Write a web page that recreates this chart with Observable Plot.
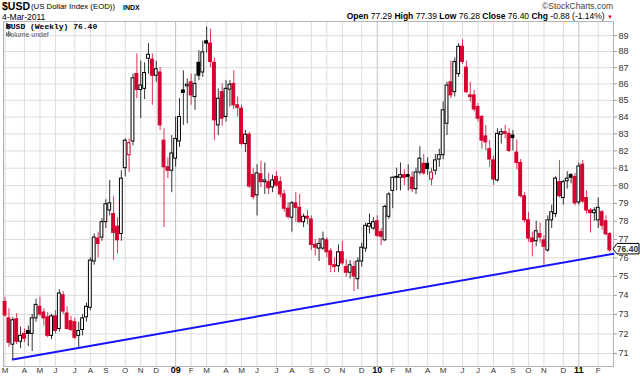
<!DOCTYPE html>
<html><head><meta charset="utf-8">
<script src="https://cdn.jsdelivr.net/npm/d3@7"></script>
<script src="https://cdn.jsdelivr.net/npm/@observablehq/plot@0.6"></script>
<style>
body{margin:0;background:#fff;}
#wrap{position:relative;width:640px;height:376px;overflow:hidden;font-family:"Liberation Sans",Arial,sans-serif;color:#000;font-size:8.5px;}
#wrap svg{position:absolute;left:0;top:0;}
.ov{position:absolute;white-space:nowrap;line-height:1;}
</style></head><body>
<div id="wrap"></div>
<script>
// ---- data (weekly candles, Mondays from 3-Mar-2008 to 28-Feb-2011) ----
const weekStart = "2008-03-03";
const weekEnd = "2011-03-01";
const opens = [73.65,72.8,71.45,72.75,71.6,72.0,72.15,72.0,72.8,73.4,73.1,72.85,71.9,72.9,72.25,74.0,73.05,72.65,72.6,71.9,72.2,72.85,73.35,75.8,77.05,77.1,77.95,78.6,78.4,77.7,77.3,81.0,81.75,82.55,86.6,85.63,85.7,87.55,87.5,86.5,86.7,82.6,81.05,80.85,81.55,82.55,85.6,85.85,86.1,85.2,87.3,86.7,88.65,88.5,87.3,83.5,85.5,84.0,85.65,86.0,84.7,84.5,82.4,82.95,80.6,79.45,80.65,80.2,80.2,79.9,80.5,80.2,79.5,78.7,78.2,79.0,78.75,77.95,78.25,78.1,76.7,76.5,76.5,76.95,76.35,75.6,75.55,76.3,75.5,75.2,75.5,74.85,75.8,76.5,77.7,77.6,78.0,77.4,76.95,78.25,79.7,80.45,80.45,80.6,80.6,80.45,79.8,80.75,81.25,81.25,80.35,80.85,81.5,81.75,83.6,86.1,85.5,86.6,88.3,87.0,85.3,85.3,84.6,84.0,82.85,82.1,81.45,80.3,82.95,83.1,83.0,82.9,81.9,81.3,79.4,78.05,77.05,76.9,77.3,76.95,76.4,78.05,78.4,80.2,79.3,80.25,80.6,80.5,79.05,81.2,79.3,78.6,78.45,78.05,78.5,78.0,77.29];
const highs = [73.9,73.3,72.85,73.05,72.35,72.25,72.4,73.0,73.8,73.9,73.3,73.1,73.0,73.2,74.3,74.2,73.4,72.9,72.8,72.6,73.0,73.6,76.0,77.3,77.4,78.15,79.2,80.3,79.4,78.2,80.85,82.7,82.7,86.6,87.85,87.4,87.3,88.5,87.85,87.4,87.0,83.3,81.6,82.9,84.0,85.1,86.8,86.3,86.6,86.6,88.05,88.65,89.55,89.4,87.6,85.7,86.0,86.2,86.2,86.8,85.2,84.7,83.2,83.1,81.0,81.2,81.4,81.3,80.7,80.6,80.8,80.5,79.75,79.05,79.1,79.6,79.5,78.4,78.6,78.3,77.0,77.05,77.4,77.1,76.5,76.0,76.7,76.9,75.9,75.85,75.8,76.0,76.8,77.9,78.4,78.2,78.3,77.6,78.9,79.6,80.5,81.0,81.3,80.9,81.2,80.8,81.0,82.25,81.8,81.6,81.0,81.8,82.1,84.9,86.1,87.4,87.6,88.5,88.75,87.4,86.1,85.6,84.8,84.1,83.5,82.6,81.7,83.3,83.3,83.5,83.3,83.2,82.65,81.5,79.6,78.5,77.4,78.0,77.9,77.2,78.3,78.9,80.5,81.45,80.3,80.8,80.7,80.7,81.3,81.45,79.7,78.7,78.75,79.3,78.6,78.3,77.39];
const lows = [72.85,71.3,70.70,71.45,71.25,71.55,71.35,71.1,72.6,72.9,72.4,71.8,71.7,72.0,72.1,73.0,72.2,72.1,71.7,71.3,71.9,72.6,73.2,75.6,76.0,76.9,77.6,78.3,75.85,76.2,76.9,80.5,80.75,82.3,85.1,83.9,85.05,86.6,84.7,86.1,83.2,77.65,80.4,79.6,81.05,82.2,83.5,83.6,84.7,84.4,86.2,86.4,87.9,87.0,82.6,82.9,83.45,83.7,84.6,84.45,84.0,82.3,81.9,79.85,79.2,78.3,79.9,79.5,79.5,79.6,79.9,79.3,78.5,78.1,77.4,77.95,77.9,77.65,77.8,76.4,76.1,75.8,76.4,76.0,75.2,75.2,75.2,75.6,74.95,74.85,74.2,74.3,75.5,76.3,77.3,77.5,77.1,76.65,76.9,78.1,78.7,79.7,79.7,80.0,79.7,79.6,79.5,80.6,80.6,80.6,80.0,80.6,81.05,81.5,82.9,85.1,85.2,86.4,87.2,85.4,84.9,84.3,83.7,82.1,82.0,81.05,80.0,80.2,82.4,82.7,81.9,82.0,80.9,79.3,77.9,76.85,76.05,76.6,76.8,75.6,76.3,77.6,78.2,79.3,78.9,79.8,80.1,78.85,78.9,79.0,78.4,77.35,78.0,77.6,77.5,77.2,76.28];
const closes = [72.95,71.55,72.7,71.6,71.9,71.75,72.0,72.8,73.5,73.0,72.8,71.9,72.9,72.15,74.1,73.15,72.25,72.2,71.8,72.15,72.8,73.4,75.85,77.1,76.75,77.95,78.95,79.0,77.35,76.95,80.4,82.6,82.45,86.34,85.63,85.9,86.67,87.8,86.5,86.9,83.5,81.05,80.85,81.85,82.7,84.0,85.45,85.95,85.3,86.0,86.5,87.95,88.5,87.35,83.8,85.1,83.9,85.7,85.95,84.7,84.55,82.4,82.95,79.95,79.35,80.7,80.2,80.3,79.85,80.3,80.0,79.5,78.7,78.25,79.0,78.75,77.95,78.25,78.15,76.7,76.55,76.75,77.0,76.3,75.6,75.5,76.3,75.7,75.2,75.6,75.0,75.8,76.55,77.75,77.85,77.95,77.2,77.15,78.8,79.5,80.45,80.5,80.6,80.45,80.5,79.8,80.75,81.55,80.7,80.95,80.75,81.45,81.75,84.4,85.9,85.3,87.35,88.3,87.35,85.5,85.2,84.45,83.9,82.6,82.5,81.5,80.35,83.0,83.1,83.0,82.0,82.75,81.3,79.4,78.05,77.05,76.85,77.45,77.1,76.6,78.05,78.5,80.4,79.4,80.2,80.4,80.45,79.0,81.1,79.1,78.6,78.45,78.6,78.75,77.75,77.28,76.40];
// trendline
const trendDates = ["2008-03-17", "2011-03-06T14:00"];
const trendValues = [70.70, 76.22];
// axis ticks
const yTicks = [71,72,73,74,75,76,77,78,79,80,81,82,83,84,85,86,87,88,89];
const monthLetters = ["J","F","M","A","M","J","J","A","S","O","N","D"];
// header texts
const symbol = "$USD";
const nameText = "(US Dollar Index (EOD))";
const exch = "INDX";
const dateText = "4-Mar-2011";
const quoteLabels = ["Open","High","Low","Close","Chg"];
const quoteValues = ["77.29","77.39","76.28","76.40","-0.88 (-1.14%)"];
const legendText = "$USD (Weekly) 76.40";
const volumeText = "Volume undef";

const RED = "#d6002f";
const weeks = d3.utcMonday.range(new Date(weekStart), new Date(weekEnd));
const candles = weeks.map((date, i) => {
  const prev = i ? closes[i-1] : opens[i];
  const color = closes[i] >= prev ? "#000000" : RED;
  return {date, open: opens[i], high: highs[i], low: lows[i], close: closes[i],
          color, fill: closes[i] > opens[i] ? "#ffffff" : color};
});
const trend = trendDates.map((d, i) => ({date: new Date(d + "Z"), value: trendValues[i]}));
const monthTicks = d3.utcMonths(new Date("2008-03-01"), new Date("2011-03-01")).map(m => d3.utcMonday.ceil(m));
const janTicks = monthTicks.filter(d => d.getUTCMonth() === 0);
const otherTicks = monthTicks.filter(d => d.getUTCMonth() !== 0);

const xStart = new Date(Date.UTC(2008, 1, 29, 5));
const xEnd = new Date(Date.UTC(2011, 2, 6, 14));

const chart = Plot.plot({
  width: 640, height: 376,
  marginTop: 21, marginBottom: 10, marginLeft: 3, marginRight: 27,
  x: {type: "utc", domain: [xStart, xEnd], axis: null},
  y: {type: "log", domain: [70.35, 89.9], axis: null},
  color: {type: "identity"},
  style: {fontFamily: "'Liberation Sans', Arial, sans-serif", fontSize: "9px", color: "#333", background: "#fff"},
  marks: [
    Plot.gridY(yTicks, {stroke: "#dddddd", strokeOpacity: 1}),
    Plot.gridX(otherTicks, {stroke: "#dddddd", strokeOpacity: 1}),
    Plot.gridX(janTicks, {stroke: "#c2c2c2", strokeOpacity: 1}),
    Plot.frame({stroke: "#b4b4b4"}),
    Plot.ruleX(candles, {x: "date", y1: "low", y2: "high", stroke: "color", strokeOpacity: 0.8}),
    Plot.rect(candles, {
      x1: d => d3.utcHour.offset(d.date, -62), x2: d => d3.utcHour.offset(d.date, 62),
      y1: "open", y2: "close", fill: "fill", stroke: "color", strokeWidth: 1
    }),
    Plot.line(trend, {x: "date", y: "value", stroke: "#1414ff", strokeWidth: 2}),
    Plot.axisY(yTicks, {anchor: "right", tickSize: 3, tickPadding: 2, tickFormat: d => String(d), fontSize: 9, label: null, stroke: "#999"}),
    Plot.text(otherTicks, {x: d => d, text: d => monthLetters[d.getUTCMonth()], frameAnchor: "bottom", dy: 6, fontSize: 8, fill: "#333"}),
    Plot.text(janTicks, {x: d => d, text: d => String(d.getUTCFullYear()).slice(2), frameAnchor: "bottom", dy: 6, fontSize: 9, fontWeight: "bold", fill: "#000"})
  ]
});

const wrap = document.getElementById("wrap");
wrap.appendChild(chart);

// last price tag on the right axis
const lastClose = closes[closes.length - 1];
const yy = chart.scale("y").apply(lastClose) - 1;
const xr = 640 - 27;
const g = d3.select(chart).append("g");
g.append("path")
  .attr("d", `M${xr},${yy} L${xr+4},${yy-5.5} L${639},${yy-5.5} L${639},${yy+5} L${xr+4},${yy+5} Z`)
  .attr("fill", "#fff").attr("stroke", "#000").attr("stroke-width", 1);
g.append("text").attr("x", 627.5).attr("y", yy).attr("dy", "0.34em").attr("text-anchor", "middle")
  .attr("font-weight", "bold").attr("font-size", 8.5).attr("font-family", "'Liberation Sans', Arial, sans-serif")
  .text(lastClose.toFixed(2));

function ov(html, style) {
  const d = document.createElement("div");
  d.className = "ov"; d.innerHTML = html; Object.assign(d.style, style);
  wrap.appendChild(d);
}
ov(symbol, {left: "2px", top: "1px", fontSize: "10.5px", fontWeight: "bold"});
ov(nameText, {left: "31px", top: "3px", fontSize: "7.8px"});
ov(exch, {left: "123px", top: "3.5px", fontSize: "7px", fontWeight: "bold"});
ov(dateText, {left: "2px", top: "12.5px", fontSize: "8.5px"});
ov("©StockCharts.com", {right: "27px", top: "2px", fontSize: "8.5px", color: "#444"});
ov(quoteLabels.map((l, i) => `<b>${l}</b> ${quoteValues[i]}`).join(" ") + ` <span style="color:${RED};font-size:6px">▼</span>`,
   {right: "27px", top: "12px", fontSize: "8.5px"});
ov(`<svg width="6" height="6" style="vertical-align:0px"><line x1="1" y1="0" x2="1" y2="6" stroke="#000"/><rect x="0.5" y="2" width="2" height="2.5" fill="#000"/><line x1="4" y1="1" x2="4" y2="5" stroke="#000"/></svg> ${legendText}`,
   {left: "6px", top: "23px", fontSize: "8px", fontFamily: "'Liberation Mono','DejaVu Sans Mono',monospace", fontWeight: "bold"});
ov(`<svg width="6" height="5" style="vertical-align:0px"><rect x="0" y="2" width="1.5" height="3" fill="#777"/><rect x="2" y="0" width="1.5" height="5" fill="#777"/><rect x="4" y="2.5" width="1.5" height="2.5" fill="#777"/></svg> ${volumeText}`,
   {left: "6px", top: "30.5px", fontSize: "7px", color: "#555"});
</script>
</body></html>
